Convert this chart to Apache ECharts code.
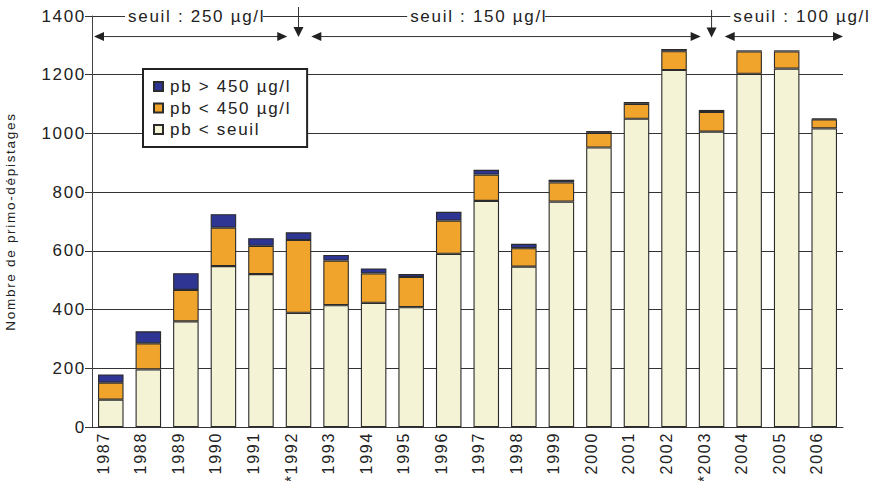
<!DOCTYPE html>
<html><head><meta charset="utf-8">
<script src="https://cdn.jsdelivr.net/npm/echarts@6/dist/echarts.min.js"></script>
<style>
html,body{margin:0;padding:0;background:#fff}
#c{width:874px;height:481px}
#c text{letter-spacing:1.7px}
</style>
</head><body><div id="c"></div>
<script>
var years = ['1987','1988','1989','1990','1991','*1992','1993','1994','1995','1996','1997','1998','1999','2000','2001','2002','*2003','2004','2005','2006'];
var belowSeuil = [93,196,360,548,521,389,415,423,408,590,770,546,768,952,1050,1216,1006,1203,1221,1017];
var below450 = [58,89,107,131,96,248,152,100,103,113,90,63,65,50,51,64,67,76,58,31];
var above450 = [28,41,57,46,26,26,19,17,10,30,16,15,9,6,6,8,7,4,4,3];
var seriesNames = ['pb < seuil','pb < 450 µg/l','pb > 450 µg/l'];
var yTicks = {min:0, max:1400, interval:200};
var seuilLabels = ['seuil : 250 µg/l','seuil : 150 µg/l','seuil : 100 µg/l'];

var FONT = "'Liberation Sans', Arial, sans-serif";
var chart = echarts.init(document.getElementById('c'), null, {renderer:'svg'});
var border = {borderColor:'#2b2b2b', borderWidth:1.1};
function ser(name, data, color){
  return {name:name, type:'bar', stack:'t', data:data, barWidth:'68%',
    itemStyle:Object.assign({color:color}, border), animation:false};
}
chart.setOption({
  animation:false,
  textStyle:{fontFamily:FONT},
  grid:{left:92, right:31, top:16, bottom:54, outerBoundsMode:'none', containLabel:false},
  legend:{
    orient:'vertical', left:143, top:69,
    data:['pb > 450 µg/l','pb < 450 µg/l','pb < seuil'],
    icon:'rect',
    itemWidth:9, itemHeight:9, itemGap:4.5,
    padding:[9,38,9,10],
    backgroundColor:'#fff', borderColor:'#222', borderWidth:2,
    textStyle:{fontSize:17, color:'#222', fontFamily:FONT, padding:[0,0,0,2]},
    selectedMode:false
  },
  xAxis:{
    type:'category', data:years,
    axisLine:{lineStyle:{color:'#333', width:1}},
    axisTick:{length:5, lineStyle:{color:'#333'}},
    axisLabel:{rotate:90, interval:0, fontSize:16, color:'#222', margin:5, fontFamily:FONT,
      verticalAlign:'bottom', lineHeight:15}
  },
  yAxis:{
    type:'value', min:yTicks.min, max:yTicks.max, interval:yTicks.interval,
    name:'Nombre de primo-dépistages', nameLocation:'middle', nameGap:75,
    nameTextStyle:{fontSize:13.5, color:'#222', fontFamily:FONT},
    axisLine:{show:true, lineStyle:{color:'#444', width:1}},
    axisTick:{show:true, length:7, lineStyle:{color:'#333'}},
    axisLabel:{fontSize:17, color:'#222', margin:6, fontFamily:FONT, formatter:function(v){return String(v);}},
    splitLine:{lineStyle:{color:'#333', width:1}}
  },
  series:[
    ser(seriesNames[0], belowSeuil, '#f5f3d5'),
    ser(seriesNames[1], below450, '#f0a42c'),
    ser(seriesNames[2], above450, '#2f3592')
  ]
});

// annotations tied to axes
var px = function(i){ return chart.convertToPixel({xAxisIndex:0}, i); };
var py = function(v){ return chart.convertToPixel({yAxisIndex:0}, v); };
var band = px(1) - px(0);
var yArr = py(1330), yTop = py(1400);
var col = '#333';
var g = [];
function hArrow(x1, x2, y){
  g.push({type:'line', shape:{x1:x1+8, y1:y, x2:x2-8, y2:y}, style:{stroke:col, lineWidth:1}, z:100});
  g.push({type:'polygon', shape:{points:[[x1,y],[x1+10,y-4.5],[x1+10,y+4.5]]}, style:{fill:'#222'}, z:100});
  g.push({type:'polygon', shape:{points:[[x2,y],[x2-10,y-4.5],[x2-10,y+4.5]]}, style:{fill:'#222'}, z:100});
}
function vArrow(x, yStart, yTip){
  g.push({type:'line', shape:{x1:x, y1:yStart, x2:x, y2:yTip-8}, style:{stroke:col, lineWidth:1}, z:100});
  g.push({type:'polygon', shape:{points:[[x-5,yTip-10],[x+5,yTip-10],[x,yTip]]}, style:{fill:'#222'}, z:100});
}
function label(t, x){
  g.push({type:'text', x:x, y:yTop, z:101, style:{text:t, font:'17px '+FONT, fill:'#222',
    verticalAlign:'middle', align:'left', backgroundColor:'#fff', padding:[2,25,2,3]}});
}
var left = px(0) - band/2, right = px(years.length-1) + band/2;
hArrow(left+2, px(5) - band*0.3, yArr);
hArrow(px(5) + band*0.34, px(16) - band*0.29, yArr);
hArrow(px(16) + band*0.35, right, yArr);
vArrow(px(5), 7, yArr+0.5);
vArrow(px(16), 10, yArr+1);
label(seuilLabels[0], px(0) + band*0.46 - 3);
label(seuilLabels[1], px(8) - 1 - 3);
label(seuilLabels[2], px(17) - band*0.42 - 3);
chart.setOption({graphic:g});
</script></body></html>
